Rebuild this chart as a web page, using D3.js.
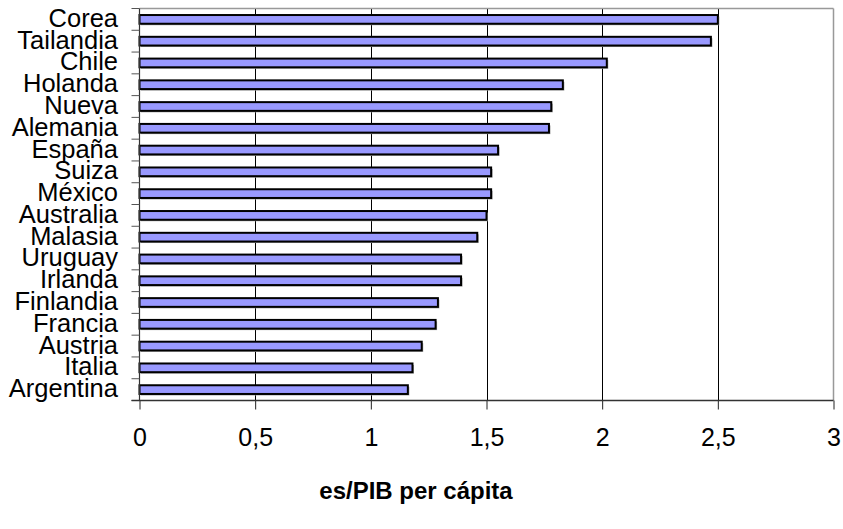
<!DOCTYPE html>
<html>
<head>
<meta charset="utf-8">
<script src="https://cdn.jsdelivr.net/npm/d3@7"></script>
<style>
  html, body { margin: 0; padding: 0; background: #fff; }
  svg { display: block; font-family: Arial, "Liberation Sans", sans-serif; }
</style>
</head>
<body>
<svg id="chart" width="843" height="529"></svg>
<script>
// Countries, top to bottom
const categories = [
  "Corea", "Tailandia", "Chile", "Holanda", "Nueva", "Alemania", "España",
  "Suiza", "México", "Australia", "Malasia", "Uruguay", "Irlanda",
  "Finlandia", "Francia", "Austria", "Italia", "Argentina"
];
// Ratio es/PIB per cápita for each country
const values = [
  2.50, 2.47, 2.02, 1.83, 1.78, 1.77, 1.55,
  1.52, 1.52, 1.50, 1.46, 1.39, 1.39,
  1.29, 1.28, 1.22, 1.18, 1.16
];
// Horizontal axis ticks and their labels
const xTicks = [0, 0.5, 1, 1.5, 2, 2.5, 3];
const xTickLabels = ["0", "0,5", "1", "1,5", "2", "2,5", "3"];
const axisTitle = "es/PIB per cápita";

const svg = d3.select("#chart");
const plotLeft = 139.5, plotRight = 833.5, plotTop = 8.5, plotBottom = 400.5;

const x = d3.scaleLinear().domain([0, 3]).range([plotLeft, plotRight]);
const y = d3.scaleBand().domain(categories).range([plotTop, plotBottom])
  .paddingInner(0.6).paddingOuter(0.3);
const step = y.step();
const slotTop = i => plotTop + i * step;

// vertical gridlines
svg.append("g").selectAll("line")
  .data(xTicks.filter(t => t > 0 && t < 3))
  .join("line")
  .attr("x1", d => Math.round(x(d)) + 0.5).attr("x2", d => Math.round(x(d)) + 0.5)
  .attr("y1", plotTop).attr("y2", plotBottom)
  .attr("stroke", "#000").attr("stroke-width", 1);

// top and right frame
svg.append("line").attr("x1", plotLeft).attr("x2", plotRight).attr("y1", plotTop).attr("y2", plotTop)
  .attr("stroke", "#999").attr("stroke-width", 1.5);
svg.append("line").attr("x1", plotRight).attr("x2", plotRight).attr("y1", plotTop).attr("y2", plotBottom)
  .attr("stroke", "#999").attr("stroke-width", 1.5);

// bar shadows
svg.append("g").selectAll("rect")
  .data(categories)
  .join("rect")
  .attr("x", x(0) + 1.5)
  .attr("y", d => y(d) + 1.5)
  .attr("width", (d, i) => x(values[i]) - x(0))
  .attr("height", y.bandwidth())
  .attr("fill", "#a0a0a0");

// bars
svg.append("g").selectAll("rect")
  .data(categories)
  .join("rect")
  .attr("x", x(0))
  .attr("y", d => y(d))
  .attr("width", (d, i) => x(values[i]) - x(0))
  .attr("height", y.bandwidth())
  .attr("fill", "#9999ff")
  .attr("stroke", "#000")
  .attr("stroke-width", 2);

// left axis line and category tick marks at band boundaries
svg.append("line").attr("x1", plotLeft).attr("x2", plotLeft).attr("y1", plotTop).attr("y2", plotBottom)
  .attr("stroke", "#333").attr("stroke-width", 1.2);
svg.append("g").selectAll("line")
  .data(d3.range(categories.length + 1))
  .join("line")
  .attr("x1", plotLeft - 8).attr("x2", plotLeft)
  .attr("y1", i => slotTop(i)).attr("y2", i => slotTop(i))
  .attr("stroke", "#555").attr("stroke-width", 1);

// category labels
svg.append("g").selectAll("text")
  .data(categories)
  .join("text")
  .attr("x", 118)
  .attr("y", d => y(d) + y.bandwidth() / 2 + 7.5)
  .attr("text-anchor", "end")
  .attr("font-size", 25.5)
  .attr("fill", "#000")
  .text(d => d);

// bottom axis
const xAxis = d3.axisBottom(x)
  .tickValues(xTicks)
  .tickFormat((d, i) => xTickLabels[i])
  .tickSize(9)
  .tickSizeOuter(0)
  .tickPadding(19);
const gx = svg.append("g").attr("transform", `translate(0,${plotBottom})`).call(xAxis);
gx.select(".domain").remove();
gx.selectAll(".tick line").attr("stroke", "#222");
gx.selectAll(".tick text").attr("font-size", 25).attr("fill", "#000")
  .attr("font-family", "Arial, 'Liberation Sans', sans-serif");
svg.append("line").attr("x1", plotLeft - 8).attr("x2", plotRight).attr("y1", plotBottom).attr("y2", plotBottom)
  .attr("stroke", "#333").attr("stroke-width", 1.5);

// axis title
svg.append("text")
  .attr("x", 416).attr("y", 499)
  .attr("text-anchor", "middle")
  .attr("font-size", 24)
  .attr("font-weight", "bold")
  .attr("fill", "#000")
  .text(axisTitle);
</script>
</body>
</html>
